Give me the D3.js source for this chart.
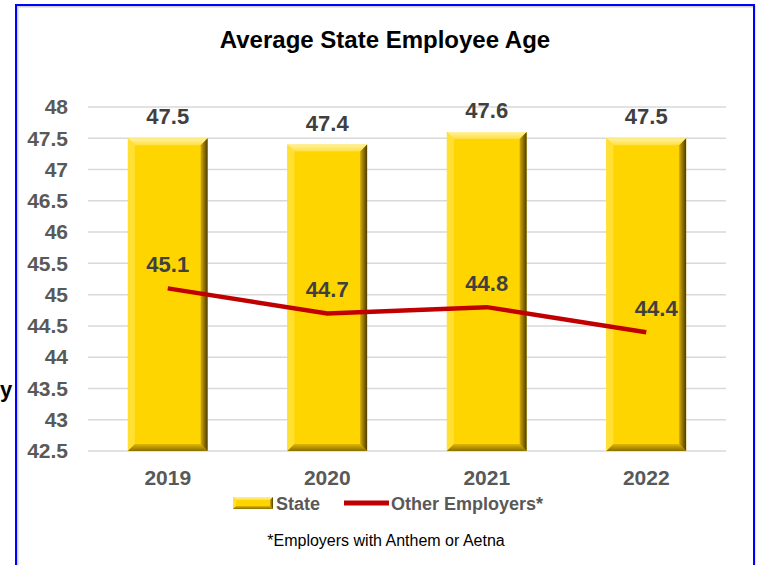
<!DOCTYPE html>
<html>
<head>
<meta charset="utf-8">
<script src="https://cdn.jsdelivr.net/npm/d3@7"></script>
<style>
  body { margin: 0; background: #fff; }
  svg { display: block; font-family: "Liberation Sans", Arial, sans-serif; }
</style>
</head>
<body>
<div id="chart"></div>
<script>
// Chart data
const years = ['2019', '2020', '2021', '2022'];
const stateAge = [47.5, 47.4, 47.6, 47.5];
const otherAge = [45.1, 44.7, 44.8, 44.4];
const yTicks = [42.5, 43, 43.5, 44, 44.5, 45, 45.5, 46, 46.5, 47, 47.5, 48];

const width = 758, height = 565;
const margin = { top: 107, right: 32, bottom: 114, left: 88 };

const svg = d3.select('#chart')
    .append('svg')
    .attr('width', width)
    .attr('height', height);

// Frame
svg.append('rect')
    .attr('x', 17.5).attr('y', 6.5)
    .attr('width', 737).attr('height', 570)
    .attr('fill', 'none')
    .attr('stroke', '#d0d0d0')
    .attr('stroke-width', 2);
svg.append('rect')
    .attr('x', 16).attr('y', 5)
    .attr('width', 738).attr('height', 580)
    .attr('fill', 'none')
    .attr('stroke', '#0000ff')
    .attr('stroke-width', 2);

// stray glyph left of frame
svg.append('text')
    .attr('x', 0).attr('y', 397)
    .attr('font-size', 22)
    .attr('font-weight', 'bold')
    .attr('fill', '#000')
    .text('y');

// Title
svg.append('text')
    .attr('x', 385).attr('y', 48)
    .attr('text-anchor', 'middle')
    .attr('font-size', 24)
    .attr('font-weight', 'bold')
    .attr('fill', '#000')
    .text('Average State Employee Age');

// Scales
const x = d3.scaleBand()
    .domain(years)
    .range([margin.left, width - margin.right])
    .paddingInner(0.5)
    .paddingOuter(0.25);

const y = d3.scaleLinear()
    .domain([42.5, 48])
    .range([height - margin.bottom, margin.top]);

// Gridlines
svg.append('g')
    .selectAll('line')
    .data(yTicks)
    .join('line')
    .attr('x1', margin.left)
    .attr('x2', width - margin.right)
    .attr('y1', d => y(d))
    .attr('y2', d => y(d))
    .attr('stroke', '#d9d9d9')
    .attr('stroke-width', 1.5);

// Y axis labels
const yAxis = svg.append('g')
    .attr('transform', `translate(${margin.left - 20},0)`)
    .call(d3.axisLeft(y).tickValues(yTicks).tickSize(0).tickPadding(0).tickFormat(d3.format('')));
yAxis.select('.domain').remove();
yAxis.selectAll('text')
    .attr('font-size', 21)
    .attr('font-weight', 'bold')
    .attr('fill', '#595959')
    .attr('font-family', '"Liberation Sans", Arial, sans-serif');

// X axis labels
const xAxis = svg.append('g')
    .attr('transform', `translate(0,${height - margin.bottom})`)
    .call(d3.axisBottom(x).tickSize(0).tickPadding(19));
xAxis.select('.domain').remove();
xAxis.selectAll('text')
    .attr('font-size', 21)
    .attr('font-weight', 'bold')
    .attr('fill', '#595959')
    .attr('font-family', '"Liberation Sans", Arial, sans-serif');

// Gradients for bevelled bars
const defs = svg.append('defs');
const rightGrad = defs.append('linearGradient').attr('id', 'bevelRight')
    .attr('x1', 0).attr('x2', 1).attr('y1', 0).attr('y2', 0);
rightGrad.append('stop').attr('offset', '0%').attr('stop-color', '#d4a800');
rightGrad.append('stop').attr('offset', '100%').attr('stop-color', '#4d3d00');
const topGrad = defs.append('linearGradient').attr('id', 'bevelTop')
    .attr('x1', 0).attr('x2', 0).attr('y1', 0).attr('y2', 1);
topGrad.append('stop').attr('offset', '0%').attr('stop-color', '#fff1a0');
topGrad.append('stop').attr('offset', '100%').attr('stop-color', '#ffdf40');
const botGrad = defs.append('linearGradient').attr('id', 'bevelBottom')
    .attr('x1', 0).attr('x2', 0).attr('y1', 0).attr('y2', 1);
botGrad.append('stop').attr('offset', '0%').attr('stop-color', '#e0b800');
botGrad.append('stop').attr('offset', '100%').attr('stop-color', '#8a6e00');

function bevelBar(g, x0, y0, w, h, b) {
    const x1 = x0 + w, y1 = y0 + h;
    g.append('rect').attr('x', x0).attr('y', y0).attr('width', w).attr('height', h)
        .attr('fill', '#ffd500');
    g.append('polygon').attr('points', [[x0, y0], [x1, y0], [x1 - b, y0 + b], [x0 + b, y0 + b]].join(' '))
        .attr('fill', 'url(#bevelTop)');
    g.append('polygon').attr('points', [[x0, y0], [x0 + b, y0 + b], [x0 + b, y1 - b], [x0, y1]].join(' '))
        .attr('fill', '#ffe033');
    g.append('polygon').attr('points', [[x0, y1], [x0 + b, y1 - b], [x1 - b, y1 - b], [x1, y1]].join(' '))
        .attr('fill', 'url(#bevelBottom)');
    g.append('polygon').attr('points', [[x1, y0], [x1, y1], [x1 - b, y1 - b], [x1 - b, y0 + b]].join(' '))
        .attr('fill', 'url(#bevelRight)');
}

// Bars
const bars = svg.append('g');
years.forEach((yr, i) => {
    const g = bars.append('g');
    bevelBar(g, x(yr), y(stateAge[i]), x.bandwidth(), y(42.5) - y(stateAge[i]), 7);
});

// Bar labels
svg.append('g')
    .selectAll('text')
    .data(stateAge)
    .join('text')
    .attr('x', (d, i) => x(years[i]) + x.bandwidth() / 2)
    .attr('y', d => y(d) - 14)
    .attr('text-anchor', 'middle')
    .attr('font-size', 22)
    .attr('font-weight', 'bold')
    .attr('fill', '#404040')
    .text(d => d.toFixed(1));

// Other employers line
const line = d3.line()
    .x((d, i) => x(years[i]) + x.bandwidth() / 2)
    .y(d => y(d));

svg.append('path')
    .datum(otherAge)
    .attr('d', line)
    .attr('fill', 'none')
    .attr('stroke', '#c00000')
    .attr('stroke-width', 4.5);

svg.append('g')
    .selectAll('text')
    .data(otherAge)
    .join('text')
    .attr('x', (d, i) => x(years[i]) + x.bandwidth() / 2 + (i === 3 ? 10 : 0))
    .attr('y', d => y(d) - 16)
    .attr('text-anchor', 'middle')
    .attr('font-size', 22)
    .attr('font-weight', 'bold')
    .attr('fill', '#404040')
    .text(d => d.toFixed(1));

// Legend
const legend = svg.append('g').attr('transform', 'translate(0,503)');
bevelBar(legend.append('g'), 233, -6, 40, 12, 3);
legend.append('text')
    .attr('x', 276).attr('y', 7)
    .attr('font-size', 18).attr('font-weight', 'bold').attr('fill', '#595959')
    .text('State');
legend.append('line')
    .attr('x1', 344).attr('x2', 389).attr('y1', 0).attr('y2', 0)
    .attr('stroke', '#c00000').attr('stroke-width', 5);
legend.append('text')
    .attr('x', 391).attr('y', 7)
    .attr('font-size', 18).attr('font-weight', 'bold').attr('fill', '#595959')
    .text('Other Employers*');

// Footnote
svg.append('text')
    .attr('x', 386).attr('y', 546)
    .attr('text-anchor', 'middle')
    .attr('font-size', 16)
    .attr('fill', '#000')
    .text('*Employers with Anthem or Aetna');
</script>
</body>
</html>
